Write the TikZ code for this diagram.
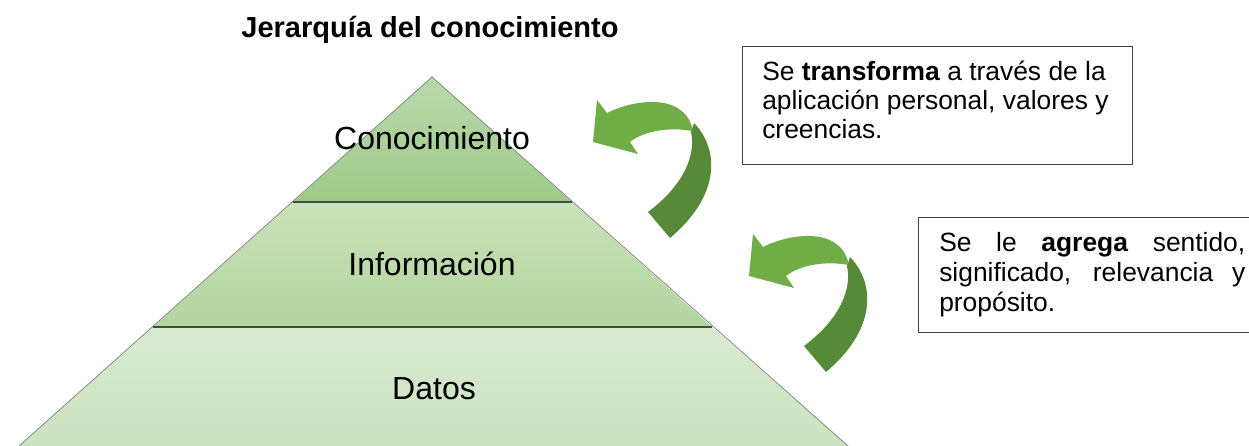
\documentclass[tikz,border=0pt]{standalone}
\usepackage{fontspec}
\setmainfont{Liberation Sans}
\definecolor{arrowlight}{HTML}{70AD47}
\definecolor{arrowdark}{HTML}{578A38}
\definecolor{topA}{HTML}{B9D8AB}
\definecolor{topB}{HTML}{A0CA8A}
\definecolor{midA}{HTML}{C9E2BA}
\definecolor{midB}{HTML}{B3D49F}
\definecolor{botA}{HTML}{D9EAD1}
\definecolor{botB}{HTML}{CCE2C0}
\definecolor{edgegray}{HTML}{7F8A7F}
\definecolor{divline}{HTML}{3F4F3F}
\definecolor{boxline}{HTML}{404040}
\tikzset{
  layerlabel/.style={anchor=base, inner sep=0pt, font=\fontsize{24}{28}\selectfont},
  boxline/.style={anchor=base west, inner sep=0pt, font=\fontsize{19.8}{23}\selectfont},
  textbox/.style={draw=boxline, line width=0.9pt, anchor=north west, inner sep=0pt, fill=white},
  bentarrow/.pic={
    \fill[arrowdark] (694,123) .. controls (720,150) and (720,196) .. (670,238)
       -- (648,212) .. controls (684,185) and (696,155) .. (691,132) -- cycle;
    \fill[arrowlight] (597,100) -- (607,113) .. controls (630,101) and (681,91) .. (692,127)
       -- (692,131) .. controls (672,127) and (645,130) .. (630,142)
       -- (638,154) -- (593,142) -- cycle;
  }
}
\begin{document}
\begin{tikzpicture}[x=0.75pt,y=-0.75pt]
\clip (0,0) rectangle (1249,446);
\fill[white] (0,0) rectangle (1249,446);
% pyramid
\coordinate (apex) at (432,77);
\coordinate (L1) at (293,202);
\coordinate (R1) at (572,202);
\coordinate (L2) at (153,327);
\coordinate (R2) at (712,327);
\coordinate (L3) at (19,446);
\coordinate (R3) at (848,446);
\path[top color=botA, bottom color=botB] (L2) -- (R2) -- (R3) -- (L3) -- cycle;
\path[top color=midA, bottom color=midB] (L1) -- (R1) -- (R2) -- (L2) -- cycle;
\path[top color=topA, bottom color=topB] (apex) -- (R1) -- (L1) -- cycle;
\draw[edgegray, line width=0.6pt] (L3) -- (apex) -- (R3);
\draw[divline, line width=1pt] (L1) -- (R1);
\draw[divline, line width=1pt] (L2) -- (R2);
\node[layerlabel] (conoc) at (432,149) {Conocimiento};
\node[layerlabel] (info) at (432,275) {Información};
\node[layerlabel] (datos) at (434,399) {Datos};
% title
\node[anchor=base, inner sep=0pt, font=\fontsize{21.75}{26}\selectfont\bfseries] (title) at (430,37) {Jerarquía del conocimiento};
% arrows
\pic (arrowA) at (0,0) {bentarrow};
\pic (arrowB) at (156,134) {bentarrow};
% boxes
\node[textbox, minimum width=292.5pt, minimum height=88.5pt] (box1) at (742,46) {};
\node[boxline] (b1l1) at (762,80) {Se \textbf{transforma} a través de la};
\node[boxline] (b1l2) at (762,109) {aplicación personal, valores y};
\node[boxline] (b1l3) at (762,138) {creencias.};
\node[textbox, minimum width=258pt, minimum height=86.25pt] (box2) at (918,217) {};
\node[boxline] (b2l1) at (939,251) {\makebox[229.5pt][s]{Se le \textbf{agrega} sentido,}};
\node[boxline] (b2l2) at (939,281) {\makebox[229.5pt][s]{significado, relevancia y}};
\node[boxline] (b2l3) at (939,311) {propósito.};
\end{tikzpicture}
\end{document}
